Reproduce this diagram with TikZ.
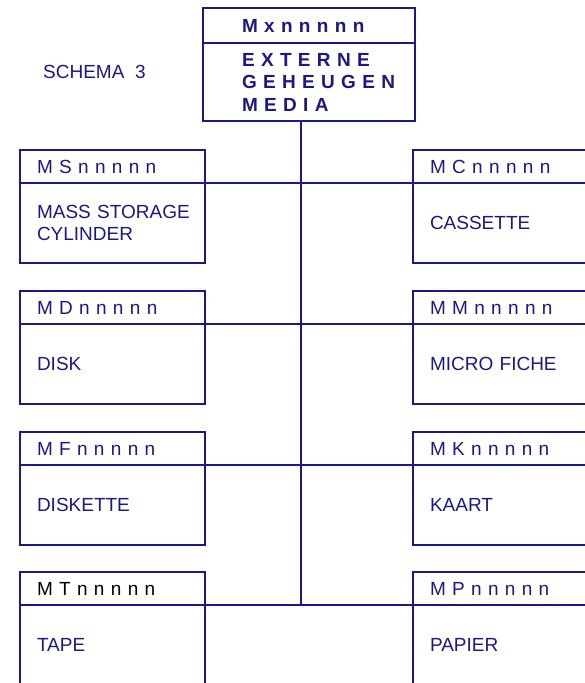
\documentclass[tikz,border=0pt]{standalone}
\usepackage{fontspec}
\setmainfont{Liberation Sans}
\usetikzlibrary{positioning}
\definecolor{schemablauw}{RGB}{25,25,135}
\tikzset{
  kop/.style={draw=schemablauw, line width=1.2pt, outer sep=0pt, inner ysep=0pt,
    minimum width=185pt, minimum height=33pt, text width=151pt, inner xsep=17pt,
    align=left, anchor=north west, text=schemablauw,
    font=\fontsize{19}{22}\selectfont},
  romp/.style={kop, minimum height=80pt},
  hoofd/.style={kop, minimum width=212pt, text width=134pt, inner xsep=39pt,
    font=\fontsize{19}{22.5}\selectfont\bfseries},
}

\begin{document}
\begin{tikzpicture}[x=1pt, y=-1pt]
    \useasboundingbox (0,0) rectangle (585,683);
    \clip (0,0) rectangle (585,683);

    % Hoofdblok
    \node[hoofd, minimum height=35pt] (Mx) at (203,8) {\mbox{M x n n n n n}};
    \node[hoofd, minimum height=78pt, below=0pt of Mx] (Mxt)
        {\mbox{E X T E R N E}\\\mbox{G E H E U G E N}\\\mbox{M E D I A}};
    \node[anchor=west, inner sep=0pt, text=schemablauw,
        font=\fontsize{19}{22}\selectfont] (titel) at (43,72) {SCHEMA\ \ 3};

    % Links
    \node[kop] (MS) at (20,150) {M S n n n n n};
    \node[romp, below=0pt of MS] (MSt) {\mbox{MASS STORAGE}\\CYLINDER};
    \node[kop] (MD) at (20,291) {M D n n n n n};
    \node[romp, below=0pt of MD] (MDt) {DISK};
    \node[kop] (MF) at (20,432) {M F n n n n n};
    \node[romp, below=0pt of MF] (MFt) {DISKETTE};
    \node[kop, text=black] (MT) at (20,572) {M T n n n n n};
    \node[romp, below=0pt of MT] (MTt) {TAPE};

    % Rechts
    \node[kop] (MC) at (413,150) {M C n n n n n};
    \node[romp, below=0pt of MC] (MCt) {CASSETTE};
    \node[kop] (MM) at (413,291) {M M n n n n n};
    \node[romp, below=0pt of MM] (MMt) {MICRO FICHE};
    \node[kop] (MK) at (413,432) {M K n n n n n};
    \node[romp, below=0pt of MK] (MKt) {KAART};
    \node[kop] (MP) at (413,572) {M P n n n n n};
    \node[romp, below=0pt of MP] (MPt) {PAPIER};

    % Verbindingen
    \coordinate (stamvoet) at (301,606);
    \draw[schemablauw, line width=1.2pt] (Mxt.south -| stamvoet) -- (stamvoet);
    \foreach \l/\r in {MS/MC, MD/MM, MF/MK, MT/MP}
        \draw[schemablauw, line width=1.2pt] (\l.south east) -- (\r.south west);
\end{tikzpicture}
\end{document}
